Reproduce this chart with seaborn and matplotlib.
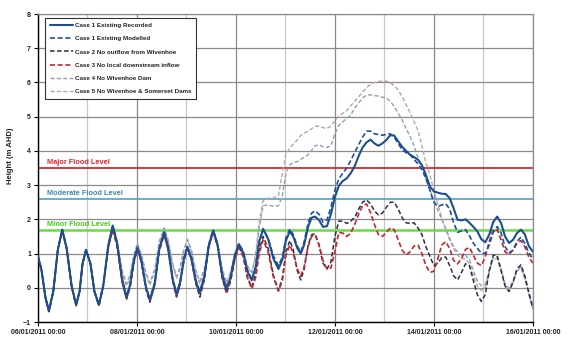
import matplotlib
matplotlib.use("Agg")
import matplotlib.pyplot as plt
import seaborn as sns

# days since 06/01/2011 00:00
days = [0, 0.07, 0.15, 0.22, 0.31, 0.40, 0.49, 0.58, 0.68, 0.77,
        0.84, 0.90, 0.97, 1.06, 1.14, 1.23, 1.32, 1.42, 1.51, 1.60,
        1.70, 1.79, 1.86, 1.94, 2.01, 2.09, 2.18, 2.26, 2.36, 2.45,
        2.55, 2.63, 2.72, 2.80, 2.87, 2.95, 3.02, 3.10, 3.19, 3.27,
        3.36, 3.45, 3.54, 3.63, 3.72, 3.81, 3.89, 3.98, 4.06, 4.15,
        4.23, 4.32, 4.40, 4.47, 4.55, 4.65, 4.76, 4.86, 4.94, 5.01,
        5.09, 5.16, 5.24, 5.31, 5.38, 5.46, 5.53, 5.60, 5.68, 5.76,
        5.84, 5.92, 6.00, 6.08, 6.16, 6.24, 6.32, 6.40, 6.48, 6.56,
        6.64, 6.72, 6.80, 6.88, 6.96, 7.04, 7.12, 7.20, 7.28, 7.36,
        7.44, 7.52, 7.60, 7.68, 7.76, 7.84, 7.92, 8.00, 8.08, 8.16,
        8.24, 8.32, 8.40, 8.48, 8.56, 8.64, 8.72, 8.80, 8.88, 8.96,
        9.04, 9.12, 9.20, 9.28, 9.36, 9.44, 9.52, 9.60, 9.68, 9.76,
        9.84, 9.92, 10.00]

case1_recorded = [0.92, 0.52, -0.28, -0.68, -0.09, 1.11, 1.70, 1.15, 0.05, -0.50,
                  -0.10, 0.71, 1.11, 0.71, -0.10, -0.50, 0.08, 1.24, 1.82, 1.30,
                  0.25, -0.28, 0.08, 0.81, 1.17, 0.79, 0.03, -0.35, 0.14, 1.13,
                  1.62, 1.17, 0.26, -0.20, 0.15, 0.85, 1.20, 0.86, 0.19, -0.15,
                  0.31, 1.22, 1.68, 1.25, 0.38, -0.05, 0.28, 0.94, 1.27, 1.01,
                  0.48, 0.22, 0.60, 1.35, 1.72, 1.43, 0.84, 0.55, 0.83, 1.38,
                  1.65, 1.49, 1.16, 1.00, 1.26, 1.79, 2.05, 2.08, 1.98, 1.78,
                  1.80, 2.15, 2.65, 2.98, 3.12, 3.20, 3.35, 3.55, 3.85, 4.10,
                  4.25, 4.33, 4.22, 4.15, 4.22, 4.32, 4.46, 4.45, 4.28, 4.12,
                  4.00, 3.89, 3.82, 3.74, 3.58, 3.30, 2.96, 2.82, 2.78, 2.75,
                  2.74, 2.62, 2.32, 1.99, 1.97, 2.00, 1.90, 1.78, 1.65, 1.42,
                  1.33, 1.55, 1.92, 2.08, 1.89, 1.50, 1.31, 1.40, 1.60, 1.70,
                  1.56, 1.22, 1.06]

case1_modelled = [0.92, 0.52, -0.28, -0.68, -0.09, 1.11, 1.70, 1.15, 0.05, -0.50,
                  -0.10, 0.71, 1.11, 0.71, -0.10, -0.50, 0.08, 1.24, 1.80, 1.28,
                  0.24, -0.26, 0.10, 0.82, 1.18, 0.80, 0.04, -0.33, 0.15, 1.13,
                  1.63, 1.18, 0.28, -0.17, 0.17, 0.86, 1.21, 0.88, 0.22, -0.10,
                  0.34, 1.24, 1.69, 1.27, 0.42, 0.00, 0.32, 0.97, 1.29, 1.04,
                  0.52, 0.25, 0.62, 1.35, 1.72, 1.45, 0.92, 0.65, 0.90, 1.45,
                  1.72, 1.55, 1.22, 1.05, 1.35, 1.90, 2.18, 2.25, 2.15, 1.92,
                  1.98, 2.35, 2.85, 3.18, 3.35, 3.50, 3.72, 3.95, 4.18, 4.40,
                  4.58, 4.58, 4.50, 4.48, 4.46, 4.48, 4.50, 4.40, 4.22, 4.03,
                  3.95, 3.89, 3.75, 3.62, 3.45, 3.20, 2.85, 2.50, 2.38, 2.42,
                  2.46, 2.30, 1.90, 1.62, 1.66, 1.70, 1.52, 1.30, 1.15, 1.02,
                  1.00, 1.25, 1.62, 1.79, 1.60, 1.20, 1.02, 1.10, 1.35, 1.48,
                  1.30, 1.02, 0.85]

case2 = [0.92, 0.52, -0.28, -0.68, -0.09, 1.11, 1.68, 1.13, 0.03, -0.52,
         -0.12, 0.70, 1.10, 0.70, -0.12, -0.52, 0.05, 1.18, 1.72, 1.22,
         0.18, -0.33, 0.03, 0.78, 1.15, 0.76, -0.02, -0.42, 0.09, 1.10,
         1.58, 1.12, 0.20, -0.27, 0.10, 0.83, 1.20, 0.83, 0.12, -0.27,
         0.22, 1.18, 1.66, 1.22, 0.30, -0.17, 0.18, 0.86, 1.22, 0.92,
         0.32, 0.02, 0.40, 1.10, 1.50, 1.15, 0.35, -0.08, 0.30, 1.05,
         1.38, 1.10, 0.50, 0.23, 0.55, 1.25, 1.55, 1.58, 1.25, 0.72,
         0.55, 0.75, 1.50, 1.95, 1.95, 1.88, 1.95, 2.05, 2.30, 2.50,
         2.57, 2.45, 2.25, 2.13, 2.18, 2.35, 2.50, 2.50, 2.30, 2.05,
         1.90, 1.88, 1.90, 1.75, 1.55, 1.20, 0.92, 0.65, 0.72, 0.88,
         0.90, 0.65, 0.35, 0.23, 0.45, 0.70, 0.65, 0.20, -0.20, -0.40,
         -0.20, 0.50, 0.95, 0.95, 0.50, 0.05, -0.11, 0.15, 0.55, 0.67,
         0.35, -0.15, -0.60]

case3 = [0.92, 0.52, -0.28, -0.70, -0.10, 1.10, 1.68, 1.12, 0.02, -0.52,
         -0.12, 0.70, 1.10, 0.70, -0.12, -0.52, 0.04, 1.17, 1.70, 1.20,
         0.17, -0.33, 0.02, 0.76, 1.12, 0.74, -0.03, -0.40, 0.08, 1.07,
         1.55, 1.12, 0.22, -0.25, 0.10, 0.80, 1.15, 0.82, 0.15, -0.20,
         0.25, 1.18, 1.64, 1.20, 0.30, -0.12, 0.20, 0.85, 1.18, 0.90,
         0.30, -0.03, 0.30, 1.00, 1.40, 1.05, 0.30, -0.10, 0.22, 0.95,
         1.25, 1.00, 0.55, 0.35, 0.62, 1.22, 1.50, 1.55, 1.25, 0.80,
         0.55, 0.58, 1.05, 1.62, 1.60, 1.50, 1.60, 1.85, 2.15, 2.40,
         2.45, 2.20, 1.85, 1.55, 1.50, 1.62, 1.75, 1.70, 1.40, 1.10,
         0.96, 1.05, 1.22, 1.25, 1.00, 0.65, 0.45, 0.48, 0.85, 1.25,
         1.35, 1.15, 0.80, 0.70, 0.85, 1.12, 1.18, 0.95, 0.72, 0.65,
         0.90, 1.35, 1.70, 1.70, 1.40, 1.05, 0.98, 1.10, 1.30, 1.38,
         1.20, 0.90, 0.72]

case4 = [0.92, 0.52, -0.28, -0.68, -0.09, 1.11, 1.70, 1.15, 0.05, -0.50,
         -0.10, 0.71, 1.11, 0.71, -0.10, -0.50, 0.08, 1.24, 1.82, 1.35,
         0.50, 0.12, 0.38, 0.98, 1.30, 0.98, 0.45, 0.14, 0.55, 1.35,
         1.75, 1.40, 0.72, 0.33, 0.60, 1.12, 1.40, 1.10, 0.50, 0.18,
         0.55, 1.30, 1.68, 1.30, 0.55, 0.15, 0.45, 1.02, 1.30, 1.08,
         0.65, 0.45, 0.90, 1.75, 2.40, 2.42, 2.38, 2.40, 2.70, 3.35,
         3.60, 3.65, 3.69, 3.75, 3.82, 3.89, 4.02, 4.15, 4.18, 4.12,
         4.10, 4.15, 4.50, 4.75, 4.85, 4.95, 5.05, 5.25, 5.40, 5.55,
         5.63, 5.64, 5.62, 5.60, 5.57, 5.55, 5.45, 5.30, 5.10, 4.90,
         4.65, 4.42, 4.15, 3.80, 3.50, 3.18, 2.87, 2.55, 2.28, 2.00,
         1.72, 1.45, 1.20, 1.05, 0.95, 0.95, 0.82, 0.50, 0.20, 0.06,
         0.10, 0.50, 0.88, 0.90, 0.55, 0.12, -0.02, 0.20, 0.52, 0.62,
         0.30, -0.10, -0.50]

case5 = [0.92, 0.52, -0.28, -0.68, -0.09, 1.11, 1.70, 1.15, 0.05, -0.50,
         -0.10, 0.71, 1.11, 0.71, -0.10, -0.50, 0.08, 1.24, 1.82, 1.33,
         0.42, 0.05, 0.30, 0.92, 1.25, 0.92, 0.38, 0.08, 0.48, 1.30,
         1.72, 1.35, 0.65, 0.28, 0.55, 1.10, 1.42, 1.08, 0.45, 0.12,
         0.50, 1.28, 1.68, 1.28, 0.50, 0.10, 0.40, 1.00, 1.30, 1.05,
         0.62, 0.42, 1.00, 1.90, 2.55, 2.62, 2.62, 2.70, 3.35, 3.90,
         4.08, 4.20, 4.32, 4.45, 4.52, 4.58, 4.65, 4.72, 4.72, 4.68,
         4.66, 4.72, 4.88, 5.02, 5.10, 5.18, 5.32, 5.45, 5.58, 5.72,
         5.85, 5.95, 6.00, 6.03, 6.04, 6.04, 6.00, 5.90, 5.78, 5.58,
         5.35, 5.12, 4.85, 4.60, 4.15, 3.65, 3.30, 2.85, 2.45, 2.05,
         1.70, 1.40, 1.15, 0.95, 0.85, 0.85, 0.70, 0.35, 0.05, -0.08,
         0.00, 0.45, 0.85, 0.85, 0.50, 0.05, -0.08, 0.15, 0.48, 0.58,
         0.25, -0.20, -0.62]

series_labels = ["Case 1 Existing Recorded", "Case 1 Existing Modelled",
                 "Case 2 No outflow from Wivenhoe", "Case 3 No local downstream inflow",
                 "Case 4 No Wivenhoe Dam", "Case 5 No Wivenhoe & Somerset Dams"]

flood_names = ["Major Flood Level", "Moderate Flood Level", "Minor Flood Level"]
flood_levels = [3.5, 2.6, 1.7]

tick_days = [0, 2, 4, 6, 8, 10]
tick_labels = ["06/01/2011 00:00", "08/01/2011 00:00", "10/01/2011 00:00",
               "12/01/2011 00:00", "14/01/2011 00:00", "16/01/2011 00:00"]

sns.set_theme(style="white")
plt.rcParams['font.family'] = ['Liberation Sans', 'DejaVu Sans']

fig = plt.figure(figsize=(5.7, 3.56), dpi=100)
ax = fig.add_axes([0.0667, 0.0955, 0.868, 0.865])

# flood levels
flood_colors = ["#d42a2e", "#5aaac4", "#66dd44"]
text_colors = ["#d42a2e", "#3f86a8", "#44c81c"]
for name, lvl, lc, tc in zip(flood_names, flood_levels, flood_colors, text_colors):
    ax.axhline(lvl, color=lc, lw=1.3 if lvl != 1.7 else 1.8, zorder=2)
    ax.text(0.18, lvl + 0.06, name, color=tc, fontsize=5.3, fontweight='bold',
            va='bottom', ha='left', zorder=3)

all_series = [case1_recorded, case1_modelled, case2, case3, case4, case5]
colors = ["#1c4f8c", "#1d4fa0", "#2e2d48", "#c8242b", "#8fa0b8", "#bba4a2"]
styles = ['-', (0, (3, 1.6)), (0, (3, 1.6)), (0, (3, 1.6)), (0, (3, 1.6)), (0, (3, 1.6))]
widths = [1.5, 1.2, 1.1, 1.2, 1.0, 1.0]
zords = [9, 8, 6, 7, 5, 4]

for vals, lab, c, ls, lw, z in zip(all_series, series_labels, colors, styles, widths, zords):
    sns.lineplot(x=days, y=vals, ax=ax, color=c, linestyle=ls, lw=lw,
                 label=lab, zorder=z, sort=False)

ax.set_xlim(0, 10)
ax.set_ylim(-1, 8)
ax.set_xticks(tick_days)
ax.set_xticklabels(tick_labels)
ax.set_xticks([1, 3, 5, 7, 9], minor=True)
ax.set_yticks(range(-1, 9))

ax.set_axisbelow(True)
ax.grid(which='major', axis='both', color='#8a8a8a', lw=0.9)
ax.grid(which='minor', axis='x', color='#c8c8c8', lw=0.9)

for sp in ['left', 'bottom']:
    ax.spines[sp].set_color('black')
    ax.spines[sp].set_linewidth(1.0)
for sp in ['top', 'right']:
    ax.spines[sp].set_color('#8a8a8a')
    ax.spines[sp].set_linewidth(0.9)

ax.tick_params(axis='both', which='major', direction='out', length=3, width=0.8,
               labelsize=5, pad=2, colors='black', bottom=True, left=True)
ax.tick_params(axis='x', which='minor', length=0)
for lab in ax.get_xticklabels() + ax.get_yticklabels():
    lab.set_fontweight('bold')
    lab.set_color('#222222')

ax.set_xlabel('')
ax.set_ylabel('Height (m AHD)', fontsize=5.5, fontweight='bold', color='#222222')
ax.yaxis.set_label_coords(-0.048, 0.54)

leg = ax.legend(loc='upper left', bbox_to_anchor=(0.014, 0.987), fontsize=4.5,
                frameon=True, fancybox=False, framealpha=1, edgecolor='#333333',
                handlelength=3.8, handletextpad=0.2, labelspacing=1.25,
                borderpad=0.75, borderaxespad=0)
leg.get_frame().set_linewidth(0.8)
for t in leg.get_texts():
    t.set_fontweight('bold')
    t.set_color('#222222')

fig.savefig('out.png', dpi=100, facecolor='white')
